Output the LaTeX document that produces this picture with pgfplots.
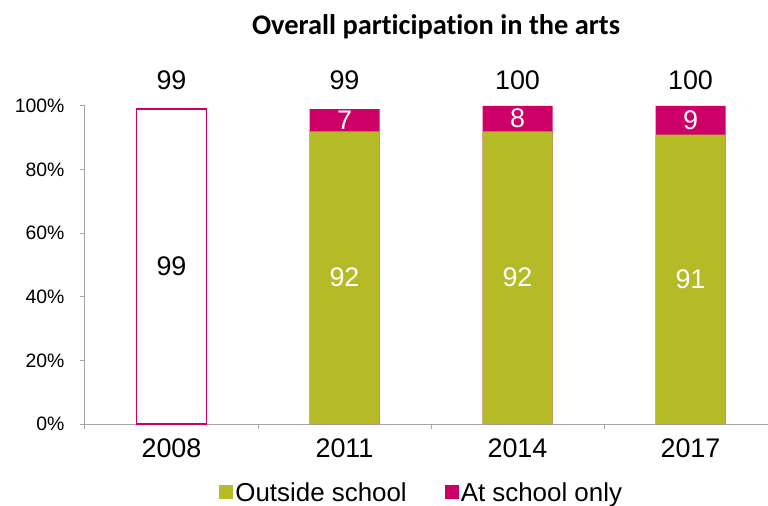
\documentclass[border=0pt]{standalone}
\usepackage{pgfplots}
\pgfplotsset{compat=1.18}
\usepackage{fontspec}
\setmainfont{Liberation Sans}
\newfontfamily\titlefont[Ligatures=NoCommon]{Carlito}
\definecolor{olive}{RGB}{181,187,38}
\definecolor{mag}{RGB}{204,0,102}
\definecolor{axgray}{RGB}{166,166,166}
\begin{document}
\begin{tikzpicture}
\begin{axis}[
  scale only axis,
  width=683bp, height=318bp,
  xmin=-0.5, xmax=3.448,
  ymin=0, ymax=100,
  axis x line=bottom, axis y line=left,
  axis line style={axgray, line width=1bp, -},
  ybar, bar width=70bp, bar shift=0pt,
  xtick={0,1,2,3},
  xticklabels={2008,2011,2014,2017},
  minor xtick={-0.5,0.5,1.5,2.5},
  major x tick style={draw=none},
  minor tick length=5bp,
  minor x tick style={axgray, line width=1bp},
  ytick={0,20,40,60,80,100},
  yticklabel={\pgfmathprintnumber{\tick}\%},
  y tick style={axgray, line width=1bp},
  major tick length=5bp,
  tick align=outside,
  /pgf/number format/assume math mode=true,
  xticklabel style={font=\fontsize{27}{30}\selectfont, yshift=-6bp},
  yticklabel style={font=\fontsize{19.5}{22}\selectfont, xshift=-12bp},
  clip=false,
  legend style={draw=none, at={(0.493,-0.215)}, anchor=center, legend columns=2,
    font=\fontsize{26}{28}\selectfont, /tikz/every even column/.append style={column sep=36bp}},
  legend image code/.code={\fill[#1] (-6bp,-7bp) rectangle (8bp,7bp);},
]
\addplot[fill=white, draw=mag, line width=1.5bp, forget plot] coordinates {(0,99)};
\addplot[fill=mag, draw=none, forget plot] coordinates {(1,99) (2,100) (3,100)};
\addplot[fill=olive, draw=none] coordinates {(1,92) (2,92) (3,91)};
\addlegendentry{Outside school}
\addlegendimage{fill=mag, draw=none}
\addlegendentry{At school only}
% top totals
\node[font=\fontsize{27}{30}\selectfont] at (axis cs:0,108.2) {99};
\node[font=\fontsize{27}{30}\selectfont] at (axis cs:1,108.2) {99};
\node[font=\fontsize{27}{30}\selectfont] at (axis cs:2,108.2) {100};
\node[font=\fontsize{27}{30}\selectfont] at (axis cs:3,108.2) {100};
% inside
\node[font=\fontsize{27}{30}\selectfont] at (axis cs:0,49.5) {99};
\node[font=\fontsize{27}{30}\selectfont, white] at (axis cs:1,46) {92};
\node[font=\fontsize{27}{30}\selectfont, white] at (axis cs:2,46) {92};
\node[font=\fontsize{27}{30}\selectfont, white] at (axis cs:3,45.5) {91};
\node[font=\fontsize{27}{30}\selectfont, white] at (axis cs:1,95.5) {7};
\node[font=\fontsize{27}{30}\selectfont, white] at (axis cs:2,96) {8};
\node[font=\fontsize{27}{30}\selectfont, white] at (axis cs:3,95.5) {9};
% title
\node[font=\titlefont\bfseries\fontsize{28.5}{32}\selectfont] at (axis cs:1.529,124.8) {Overall participation in the arts};
\end{axis}
\pgfresetboundingbox
\path (-85bp,-82bp) rectangle (683bp,424bp);
\end{tikzpicture}
\end{document}
